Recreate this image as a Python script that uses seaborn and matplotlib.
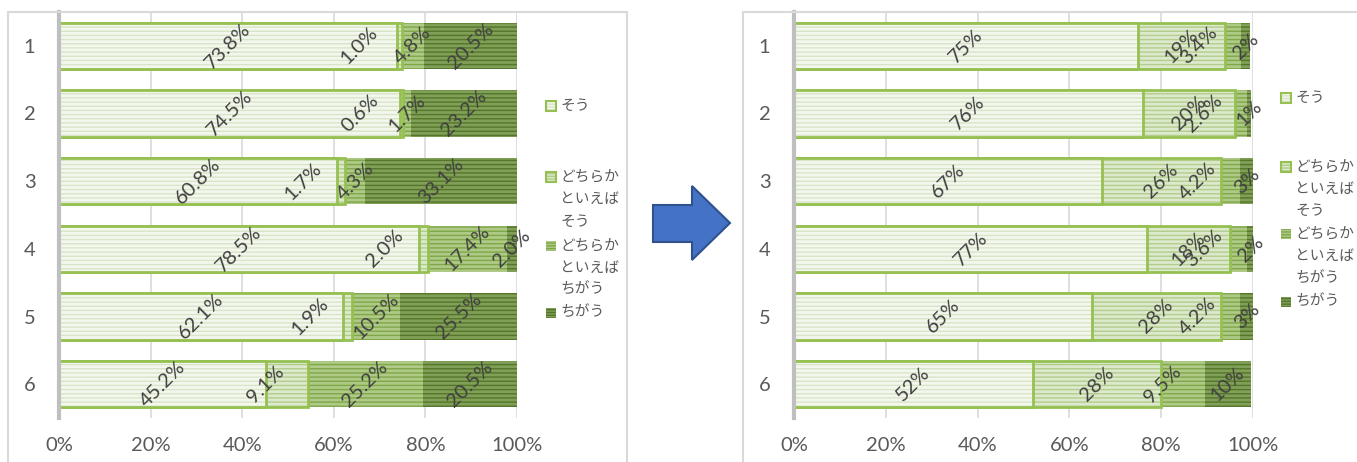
import numpy as np
import seaborn as sns
import matplotlib.pyplot as plt
from matplotlib.patches import Rectangle, Polygon
from matplotlib.ticker import FuncFormatter

# ---- data -------------------------------------------------------------
rows = ["1", "2", "3", "4", "5", "6"]
series_labels = ["そう", "どちらか\nといえば\nそう", "どちらか\nといえば\nちがう", "ちがう"]

before_sou = [73.8, 74.5, 60.8, 78.5, 62.1, 45.2]
before_yaya_sou = [1.0, 0.6, 1.7, 2.0, 1.9, 9.1]
before_yaya_chigau = [4.8, 1.7, 4.3, 17.4, 10.5, 25.2]
before_chigau = [20.5, 23.2, 33.1, 2.0, 25.5, 20.5]

after_sou = [75, 76, 67, 77, 65, 52]
after_yaya_sou = [19, 20, 26, 18, 28, 28]
after_yaya_chigau = [3.4, 2.6, 4.2, 3.6, 4.2, 9.5]
after_chigau = [2, 1, 3, 2, 3, 10]

# ---- style ------------------------------------------------------------
W, H = 1357, 462
FACE = ["#F3F7EE", "#DDE9CC", "#AECA86", "#809F57"]
STRIPE = ["#D8E5C7", "#B2CD8C", "#7FA748", "#54752A"]
BORDER = "#96C152"
HAS_BORDER = [True, True, False, False]
HATCH = "----"
TEXT = "#595959"
LABEL = "#404040"
BAR_W = 0.68

sns.set_theme(style="white")
plt.rcParams["font.family"] = ["Lato", "Noto Sans CJK JP", "DejaVu Sans"]
plt.rcParams["hatch.linewidth"] = 1.0

fig = plt.figure(figsize=(W / 100, H / 100), dpi=100)


def px(x, y):
    """pixel position -> figure fraction"""
    return x / W, 1 - y / H


def draw_chart(ax, series, fmts, end_anchored):
    data = np.array(series, dtype=float)
    cum = np.cumsum(data, axis=0)
    # stacked bars: draw cumulative totals from the outermost segment inward
    for k in range(len(series) - 1, -1, -1):
        n0 = len(ax.patches)
        sns.barplot(x=cum[k], y=rows, orient="h", color=FACE[k], width=BAR_W,
                    saturation=1, errorbar=None, ax=ax)
        for p in ax.patches[n0:]:
            p.set_facecolor(FACE[k])
            p.set_edgecolor(STRIPE[k])
            p.set_linewidth(0)
            p.set_hatch(HATCH)
        if HAS_BORDER[k]:
            n0 = len(ax.patches)
            sns.barplot(x=cum[k], y=rows, orient="h", color=BORDER, width=BAR_W,
                        fill=False, errorbar=None, ax=ax)
            for p in ax.patches[n0:]:
                p.set_facecolor("none")
                p.set_edgecolor(BORDER)
                p.set_linewidth(2.0)
                p.set_hatch(None)

    # rotated value labels
    for k in range(len(series)):
        for i in range(len(rows)):
            txt = fmts[k].format(data[k, i]) + "%"
            if k == end_anchored:
                ax.annotate(txt, xy=(cum[k, i], i), xytext=(-15, 0),
                            textcoords="offset points", ha="right", va="center",
                            rotation=45, fontsize=14.5, color=LABEL)
            else:
                ax.annotate(txt, xy=(cum[k, i] - data[k, i] / 2, i),
                            ha="center", va="center", rotation=45,
                            fontsize=14.5, color=LABEL)

    ax.set_xlim(0, 100)
    ax.set_ylim(len(rows) - 0.5, -0.5)
    ax.set_xticks(range(0, 101, 20))
    ax.xaxis.set_major_formatter(FuncFormatter(lambda v, _: f"{v:.0f}%"))
    ax.set_xlabel("")
    ax.set_ylabel("")
    ax.grid(axis="x", color="#D9D9D9", linewidth=1.2)
    ax.grid(axis="y", visible=False)
    ax.set_axisbelow(True)
    for s in ["top", "right", "bottom"]:
        ax.spines[s].set_visible(False)
    ax.spines["left"].set_color("#BFBFBF")
    ax.spines["left"].set_linewidth(3)
    ax.spines["left"].set_zorder(5)
    ax.tick_params(axis="x", length=0, pad=14, labelsize=14.5, labelcolor=TEXT)
    ax.tick_params(axis="y", length=0, pad=17, labelsize=14.5, labelcolor=TEXT)
    ax.patch.set_alpha(0)


def draw_legend(x_marker, x_text, line_ys):
    size = 10
    for k, ys in enumerate(line_ys):
        lines = series_labels[k].split("\n")
        mx, my = px(x_marker, ys[0] + size / 2)
        fig.add_artist(Rectangle((mx, my), size / W, size / H, transform=fig.transFigure,
                                 facecolor=FACE[k], edgecolor=STRIPE[k],
                                 linewidth=0, hatch="------"))
        if HAS_BORDER[k]:
            fig.add_artist(Rectangle((mx, my), size / W, size / H, transform=fig.transFigure,
                                     facecolor="none", edgecolor=BORDER, linewidth=1.5))
        for line, y in zip(lines, ys):
            tx, ty = px(x_text, y)
            fig.text(tx, ty, line, ha="left", va="center", fontsize=10.6, color=TEXT)


# chart frames
for x0, x1 in [(8, 627), (743, 1370)]:
    fx, fy = px(x0, 480)
    fig.add_artist(Rectangle((fx, fy), (x1 - x0) / W, (480 - 12) / H,
                             transform=fig.transFigure, facecolor="none",
                             edgecolor="#D9D9D9", linewidth=1.5))

ax_left = fig.add_axes([59 / W, 1 - 418 / H, 458 / W, 406 / H])
ax_right = fig.add_axes([794 / W, 1 - 418 / H, 459 / W, 406 / H])

draw_chart(ax_left,
           [before_sou, before_yaya_sou, before_yaya_chigau, before_chigau],
           ["{:.1f}", "{:.1f}", "{:.1f}", "{:.1f}"], end_anchored=1)
draw_chart(ax_right,
           [after_sou, after_yaya_sou, after_yaya_chigau, after_chigau],
           ["{:.0f}", "{:.0f}", "{:.1f}", "{:.0f}"], end_anchored=2)

draw_legend(546, 560, [[106], [177, 199, 222], [246, 268, 290], [313]])
draw_legend(1281, 1295, [[98], [167, 189, 211], [234, 256, 279], [302]])

# block arrow between the two charts
arrow_pts = [px(653, 205), px(692, 205), px(692, 186), px(730, 223),
             px(692, 260), px(692, 242), px(653, 242)]
fig.add_artist(Polygon(arrow_pts, closed=True, transform=fig.transFigure,
                       facecolor="#4472C4", edgecolor="#2F528F", linewidth=1.5))

fig.savefig("out.png", dpi=100, facecolor="white")
